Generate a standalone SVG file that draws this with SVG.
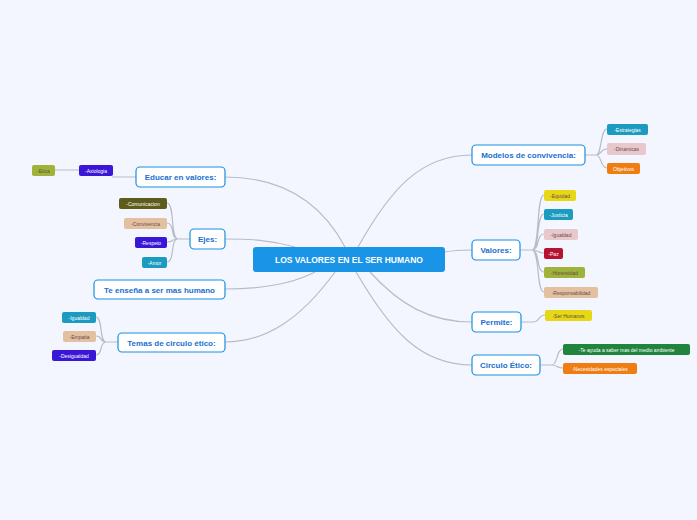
<svg xmlns="http://www.w3.org/2000/svg" width="697" height="520" viewBox="0 0 697 520">
<style>
text{font-family:"Liberation Sans",Arial,sans-serif}
.n rect{fill:#fff;stroke:#1a8fe0;stroke-width:1.2}
.n text{font-size:8px;font-weight:bold;fill:#1a6fd0;text-anchor:middle}
.t text{font-size:5px;text-anchor:middle;fill:#fff}
.t .d{fill:#6b4a4a}
#conn path{fill:none;stroke:#b9bcc6;stroke-width:1.2}
</style>
<rect width="697" height="520" fill="#f3f6fe"/>
<g id="conn">
<path d="M345,247 C320,200 280,177 225,177"/>
<path d="M295,247 C270,240 250,239 225,239"/>
<path d="M315,272 C290,285 260,289 225,289"/>
<path d="M335,272 C300,320 265,342 225,342"/>
<path d="M358,247 C390,190 420,155 472,155"/>
<path d="M445,252 C455,250 462,250 472,250"/>
<path d="M370,272 C400,305 430,322 472,322"/>
<path d="M356,272 C390,330 420,365 472,365"/>
<path d="M585,155 H596 C602,155 600,129 607,129 M596,155 C602,155 600,149 607,149 M596,155 C602,155 600,168 607,168"/>
<path d="M520,250 H532 C540,250 536,195 544,195 M532,250 C540,250 536,214 544,214 M532,250 C540,250 536,234 544,234 M532,250 C540,250 536,253 544,253 M532,250 C540,250 536,272 544,272 M532,250 C540,250 536,292 544,292"/>
<path d="M521,322 H533 C540,322 538,315 545,315"/>
<path d="M540,365 H552 C558,365 556,349 563,349 M552,365 C558,365 556,368 563,368"/>
<path d="M136,177 H112 M79,170 H32"/>
<path d="M190,239 H178 C170,239 175,203 167,203 M178,239 C170,239 175,223 167,223 M178,239 C170,239 175,242 167,242 M178,239 C170,239 175,262 167,262"/>
<path d="M118,342 H106 C99,342 103,317 96,317 M106,342 C99,342 103,336 96,336 M106,342 C99,342 103,355 96,355"/>
</g>
<g id="center"><rect x="253" y="247" width="192" height="25" rx="3" fill="#1a94e6"/><text x="349" y="263" font-size="8.5" font-weight="bold" fill="#fff" text-anchor="middle">LOS VALORES EN EL SER HUMANO</text></g>
<g id="modelos" class="n"><rect x="472" y="145" width="113" height="20" rx="4"/><text x="528.5" y="158">Modelos de convivencia:</text></g>
<g id="valores" class="n"><rect x="472" y="240" width="48" height="20" rx="4"/><text x="496" y="253">Valores:</text></g>
<g id="permite" class="n"><rect x="472" y="312" width="49" height="20" rx="4"/><text x="496.5" y="325">Permite:</text></g>
<g id="circulo" class="n"><rect x="472" y="355" width="68" height="20" rx="4"/><text x="506" y="368">Circulo Ético:</text></g>
<g id="educar" class="n"><rect x="136" y="167" width="89" height="20" rx="4"/><text x="180.5" y="180">Educar en valores:</text></g>
<g id="ejes" class="n"><rect x="190" y="229" width="35" height="20" rx="4"/><text x="207.5" y="242">Ejes:</text></g>
<g id="ensena" class="n"><rect x="94" y="280" width="131" height="19" rx="4"/><text x="159.5" y="293">Te enseña a ser mas humano</text></g>
<g id="temas" class="n"><rect x="118" y="333" width="107" height="19" rx="4"/><text x="171.5" y="346">Temas de circulo ético:</text></g>
<g class="t">
<g id="estrategias"><rect x="607" y="124" width="41" height="11" rx="2" fill="#1a9bbf"/><text x="627.5" y="131.5">-Estrategias</text></g>
<g id="dinamicas"><rect x="607" y="143" width="39" height="12" rx="2" fill="#e8c8cc"/><text class="d" x="626.5" y="151">-Dinamicas</text></g>
<g id="objetivos"><rect x="607" y="163" width="33" height="11" rx="2" fill="#ef7d12"/><text x="623.5" y="170.5">Objetivos</text></g>
<g id="equidad"><rect x="544" y="190" width="32" height="11" rx="2" fill="#e6d817"/><text class="d" x="560" y="197.5">-Equidad</text></g>
<g id="justicia"><rect x="544" y="209" width="29" height="11" rx="2" fill="#1a9bbf"/><text x="558.5" y="216.5">-Justicia</text></g>
<g id="igualdad1"><rect x="544" y="229" width="34" height="11" rx="2" fill="#e8c8cc"/><text class="d" x="561" y="236.5">-Igualdad</text></g>
<g id="paz"><rect x="544" y="248" width="19" height="11" rx="2" fill="#b5132f"/><text x="553.5" y="255.5">-Paz</text></g>
<g id="honestidad"><rect x="544" y="267" width="41" height="11" rx="2" fill="#9fb23a"/><text class="d" x="564.5" y="274.5">-Honestidad</text></g>
<g id="responsabilidad"><rect x="544" y="287" width="54" height="11" rx="2" fill="#e3c0a0"/><text class="d" x="571" y="294.5">-Responsabilidad</text></g>
<g id="serhumanos"><rect x="545" y="310" width="47" height="11" rx="2" fill="#e6d817"/><text class="d" x="568.5" y="317.5">-Ser Humanos</text></g>
<g id="teayuda"><rect x="563" y="344" width="127" height="11" rx="2" fill="#20843c"/><text x="626.5" y="351.5">-Te ayuda a saber mas del medio ambiente</text></g>
<g id="necesidades"><rect x="563" y="363" width="74" height="11" rx="2" fill="#ef7d12"/><text x="600" y="370.5">-Necesidades especiales</text></g>
<g id="etica"><rect x="32" y="165" width="23" height="11" rx="2" fill="#9fb23a"/><text class="d" x="43.5" y="172.5">-Etica</text></g>
<g id="axiologia"><rect x="79" y="165" width="34" height="11" rx="2" fill="#3a16d6"/><text x="96" y="172.5">-Axiologia</text></g>
<g id="comunicacion"><rect x="119" y="198" width="48" height="11" rx="2" fill="#5e5c1a"/><text x="143" y="205.5">-Comunicacion</text></g>
<g id="convivencia"><rect x="124" y="218" width="43" height="11" rx="2" fill="#e3c0a0"/><text class="d" x="145.5" y="225.5">-Convivencia</text></g>
<g id="respeto"><rect x="135" y="237" width="32" height="11" rx="2" fill="#3a16d6"/><text x="151" y="244.5">-Respeto</text></g>
<g id="amor"><rect x="142" y="257" width="25" height="11" rx="2" fill="#1a9bbf"/><text x="154.5" y="264.5">-Amor</text></g>
<g id="igualdad2"><rect x="62" y="312" width="34" height="11" rx="2" fill="#1a9bbf"/><text x="79" y="319.5">-Igualdad</text></g>
<g id="empatia"><rect x="63" y="331" width="33" height="11" rx="2" fill="#e3c0a0"/><text class="d" x="79.5" y="338.5">-Empatia</text></g>
<g id="desigualdad"><rect x="52" y="350" width="44" height="11" rx="2" fill="#3a16d6"/><text x="74" y="357.5">-Desigualdad</text></g>
</g>
</svg>
